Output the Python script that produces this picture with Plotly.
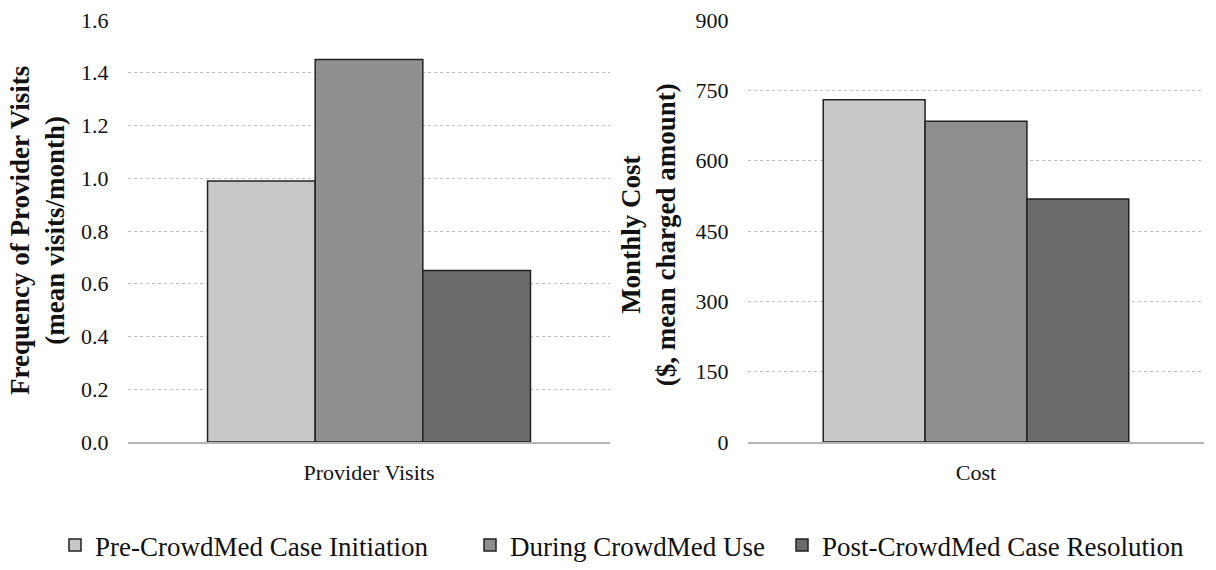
import plotly.graph_objects as go
from plotly.subplots import make_subplots

series = ["Pre-CrowdMed Case Initiation", "During CrowdMed Use", "Post-CrowdMed Case Resolution"]
colors = ["#c8c8c8", "#8f8f8f", "#6b6b6b"]
visits_cat = ["Provider Visits"]
cost_cat = ["Cost"]
visits = [0.99, 1.45, 0.65]
cost = [730, 684, 518]
visits_ticks = [0.0, 0.2, 0.4, 0.6, 0.8, 1.0, 1.2, 1.4, 1.6]
cost_ticks = [0, 150, 300, 450, 600, 750, 900]
visits_title = "<b>Frequency of Provider Visits<br>(mean visits/month)</b>"
cost_title = "<b>Monthly Cost<br>($, mean charged amount)</b>"

FONT = "Liberation Serif"
W, H = 1216, 570

fig = make_subplots(rows=1, cols=2)
legends = ["legend", "legend2", "legend3"]
for i, name in enumerate(series):
    fig.add_trace(go.Bar(x=visits_cat, y=[visits[i]], name=name, legend=legends[i],
                         marker=dict(color=colors[i], line=dict(color="#222222", width=1.5)),
                         legendgroup=name), row=1, col=1)
    fig.add_trace(go.Bar(x=cost_cat, y=[cost[i]], name=name, legend=legends[i], showlegend=False,
                         marker=dict(color=colors[i], line=dict(color="#222222", width=1.5)),
                         legendgroup=name), row=1, col=2)

yax = dict(showgrid=True, gridcolor="#bdbdbd", griddash="dot", gridwidth=1,
           zeroline=False, ticks="outside", ticklen=14, tickcolor="rgba(0,0,0,0)",
           tickfont=dict(family=FONT, size=22, color="#111"), showline=False)
xax = dict(showline=True, linecolor="#b4b4b4", linewidth=1.5,
           ticks="outside", ticklen=10, tickcolor="rgba(0,0,0,0)",
           tickfont=dict(family=FONT, size=22, color="#111"))

fig.update_layout(
    width=W, height=H, plot_bgcolor="white", paper_bgcolor="white",
    margin=dict(l=0, r=0, t=20, b=119),
    barmode="group", bargap=0.33, bargroupgap=0,
    font=dict(family=FONT, color="#111"),
    xaxis=dict(domain=[128/W, 610/W], **xax),
    xaxis2=dict(domain=[748/W, 1204/W], **xax),
    yaxis=dict(range=[0, 1.6], tickvals=visits_ticks, tickformat=".1f", **yax),
    yaxis2=dict(range=[0, 900], tickvals=cost_ticks, **yax),
)

fig.add_annotation(text=visits_title, textangle=-90, xref="paper", yref="paper",
                   x=37/W, y=0.5, xanchor="center", yanchor="middle", showarrow=False,
                   font=dict(family=FONT, size=27, color="#111"))
fig.add_annotation(text=cost_title, textangle=-90, xref="paper", yref="paper",
                   x=648/W, y=0.49, xanchor="center", yanchor="middle", showarrow=False,
                   font=dict(family=FONT, size=27, color="#111"))

leg_common = dict(orientation="h", yanchor="middle", xanchor="left", y=-0.246,
                  font=dict(family=FONT, size=27, color="#111"), itemwidth=30,
                  bgcolor="rgba(0,0,0,0)", tracegroupgap=0)
fig.update_layout(
    legend=dict(x=55/W, **leg_common),
    legend2=dict(x=470/W, **leg_common),
    legend3=dict(x=782/W, **leg_common),
)

fig.write_html("out.html", config={"displayModeBar": False},
               post_script="document.body.style.margin='0';document.body.style.overflow='hidden';")
